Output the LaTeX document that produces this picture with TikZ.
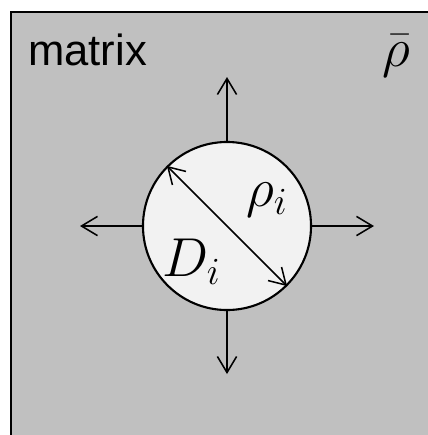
\documentclass[tikz,border=0pt]{standalone}
\usepackage{fix-cm}
\usepackage{fontspec}
\setmainfont{Liberation Sans}
\usetikzlibrary{arrows.meta}
\definecolor{cmatrix}{HTML}{C0C0C0}
\definecolor{cparticle}{HTML}{F2F2F2}
\tikzset{
  every picture/.style={x=0.025cm, y=-0.025cm},
  big/.style={font=\fontsize{31}{36}\selectfont, inner sep=0pt},
  sym/.style={font=\fontsize{39}{44}\selectfont, inner sep=0pt},
  particle/.style={circle, draw=black, fill=cparticle, line width=1.5pt, minimum size=4.2cm, inner sep=0pt},
  flow/.style={-{Straight Barb[length=4mm, width=4.8mm, line width=1.1pt]}, line width=1.1pt},
}

\begin{document}
\begin{tikzpicture}
  \useasboundingbox (0,0) rectangle (428,435);
  \clip (0,0) rectangle (428,435);
  \draw[fill=cmatrix, line width=1.5pt] (11,12) rectangle (460,470);
  \node[big, anchor=base west] (mat) at (28,65) {matrix};
  \node[sym, anchor=base] (rhobar) at (396,66) {$\bar\rho$};
  \node[particle] (p) at (227,226) {};
  % arrows out of the particle
  \coordinate (up) at (227,77);
  \coordinate (down) at (227,374);
  \coordinate (left) at (80,226);
  \coordinate (right) at (374,226);
  \foreach \side/\dir in {north/up, south/down, west/left, east/right}
    \draw[flow] (p.\side) -- (\dir);
  \draw[flow, {Straight Barb[length=4mm, width=4.8mm, line width=1.1pt]}-{Straight Barb[length=4mm, width=4.8mm, line width=1.1pt]}] (p.135) -- (p.-45);
  \node[sym, anchor=base west] (rhoi) at (246,206) {$\rho_i$};
  \node[sym, anchor=base west] (di) at (162,276) {$D_i$};
\end{tikzpicture}
\end{document}
